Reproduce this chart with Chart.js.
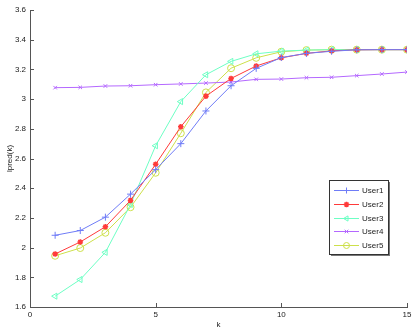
<!DOCTYPE html>
<html>
<head>
<meta charset="utf-8">
<script src="https://cdn.jsdelivr.net/npm/chart.js@4"></script>
<style>
  html, body { margin: 0; padding: 0; background: #fff; }
  #wrap { width: 415px; height: 332px; }
</style>
</head>
<body>
<div id="wrap"><canvas id="chart" width="415" height="332"></canvas></div>
<script>
const k = [1, 2, 3, 4, 5, 6, 7, 8, 9, 10, 11, 12, 13, 14, 15];
const user1 = [2.083, 2.115, 2.205, 2.36, 2.525, 2.70, 2.92, 3.09, 3.207, 3.28, 3.308, 3.322, 3.332, 3.333, 3.333];
const user2 = [1.957, 2.038, 2.14, 2.318, 2.561, 2.814, 3.02, 3.139, 3.223, 3.278, 3.308, 3.325, 3.332, 3.333, 3.333];
const user3 = [1.673, 1.785, 1.968, 2.29, 2.686, 2.983, 3.164, 3.254, 3.305, 3.323, 3.33, 3.333, 3.333, 3.333, 3.333];
const user4 = [3.077, 3.079, 3.088, 3.09, 3.097, 3.102, 3.108, 3.115, 3.133, 3.135, 3.144, 3.147, 3.158, 3.169, 3.182];
const user5 = [1.945, 1.997, 2.1, 2.272, 2.504, 2.77, 3.045, 3.208, 3.278, 3.319, 3.33, 3.333, 3.333, 3.333, 3.333];

const names = ["User1", "User2", "User3", "User4", "User5"];
const colors = ["#6f7cf7", "#ff3a3a", "#6dffc4", "#b468ff", "#cde04a"];
const styles = ["cross", "star", "triangle", "crossRot", "circle"];
const rotations = [0, 0, -90, 0, 0];
const radii = [3.5, 2.8, 3.5, 2.5, 3.5];

const FONT = "'Liberation Sans', Arial, sans-serif";
const axisColor = "#555";

function ds(i, vals) {
  return {
    label: names[i],
    data: k.map((x, j) => ({ x, y: vals[j] })),
    borderColor: colors[i],
    backgroundColor: i === 1 ? colors[i] : "rgba(0,0,0,0)",
    borderWidth: 1,
    pointStyle: styles[i],
    pointRotation: rotations[i],
    pointRadius: radii[i],
    pointBorderWidth: i === 1 ? 1.5 : 1,
    pointBorderColor: colors[i],
    pointBackgroundColor: i === 1 ? colors[i] : "rgba(0,0,0,0)",
    tension: 0
  };
}

// inward tick marks, matlab style
const innerTicks = {
  id: "innerTicks",
  afterDatasetsDraw(chart) {
    const { ctx, chartArea, scales } = chart;
    ctx.save();
    ctx.strokeStyle = axisColor;
    ctx.lineWidth = 1;
    ctx.beginPath();
    scales.x.ticks.forEach(t => {
      const px = Math.round(scales.x.getPixelForValue(t.value)) + 0.5;
      ctx.moveTo(px, chartArea.bottom);
      ctx.lineTo(px, chartArea.bottom - 4);
    });
    scales.y.ticks.forEach(t => {
      const py = Math.round(scales.y.getPixelForValue(t.value)) + 0.5;
      ctx.moveTo(chartArea.left, py);
      ctx.lineTo(chartArea.left + 4, py);
    });
    ctx.stroke();
    ctx.restore();
  }
};

// boxed legend inside the plot, lower right
const boxLegend = {
  id: "boxLegend",
  afterDraw(chart) {
    const { ctx, chartArea } = chart;
    const w = 59, h = 74, rowH = 13.8;
    const x0 = chartArea.right - 78, y0 = chartArea.top + 170;
    ctx.save();
    ctx.fillStyle = "#777";
    ctx.fillRect(x0 + 2, y0 + 2, w, h);
    ctx.fillStyle = "#fff";
    ctx.fillRect(x0, y0, w, h);
    ctx.strokeStyle = "#333";
    ctx.lineWidth = 1;
    ctx.strokeRect(x0 + 0.5, y0 + 0.5, w, h);
    ctx.font = "8px " + FONT;
    ctx.textBaseline = "middle";
    chart.data.datasets.forEach((d, i) => {
      const yy = Math.round(y0 + 10 + i * rowH) + 0.5;
      ctx.strokeStyle = d.borderColor;
      ctx.lineWidth = 1;
      ctx.beginPath();
      ctx.moveTo(x0 + 5, yy);
      ctx.lineTo(x0 + 30, yy);
      ctx.stroke();
      ctx.fillStyle = d.pointBackgroundColor;
      ctx.lineWidth = d.pointBorderWidth;
      Chart.helpers.drawPoint(ctx, {
        pointStyle: d.pointStyle,
        rotation: d.pointRotation,
        radius: Math.min(d.pointRadius, 3),
        borderWidth: d.pointBorderWidth
      }, x0 + 17.5, yy);
      ctx.fillStyle = "#222";
      ctx.fillText(d.label, x0 + 33, yy);
    });
    ctx.restore();
  }
};

new Chart(document.getElementById("chart"), {
  type: "line",
  data: {
    datasets: [ds(0, user1), ds(1, user2), ds(2, user3), ds(3, user4), ds(4, user5)]
  },
  options: {
    responsive: false,
    animation: false,
    layout: { padding: { top: 10, right: 8, left: 0, bottom: 0 } },
    plugins: {
      legend: { display: false },
      tooltip: { enabled: false }
    },
    scales: {
      x: {
        type: "linear",
        min: 0,
        max: 15,
        afterFit: s => { s.height = 25; },
        ticks: { stepSize: 5, padding: 3, color: "#222", font: { family: FONT, size: 8 }, maxRotation: 0 },
        grid: { display: true, drawOnChartArea: false, drawTicks: false, color: axisColor },
        border: { color: axisColor, width: 1 },
        title: { display: true, text: "k", color: "#222", font: { family: FONT, size: 8 }, padding: { top: 0, bottom: 2 } }
      },
      y: {
        min: 1.6,
        max: 3.6,
        afterFit: s => { s.width = 30; },
        ticks: {
          stepSize: 0.2,
          padding: 4,
          color: "#222",
          font: { family: FONT, size: 8 },
          callback: v => String(+v.toFixed(1))
        },
        grid: { display: true, drawOnChartArea: false, drawTicks: false, color: axisColor },
        border: { color: axisColor, width: 1 },
        title: { display: true, text: "lpred(k)", color: "#222", font: { family: FONT, size: 8 }, padding: { top: 5, bottom: 0 } }
      }
    }
  },
  plugins: [innerTicks, boxLegend]
});
</script>
</body>
</html>
